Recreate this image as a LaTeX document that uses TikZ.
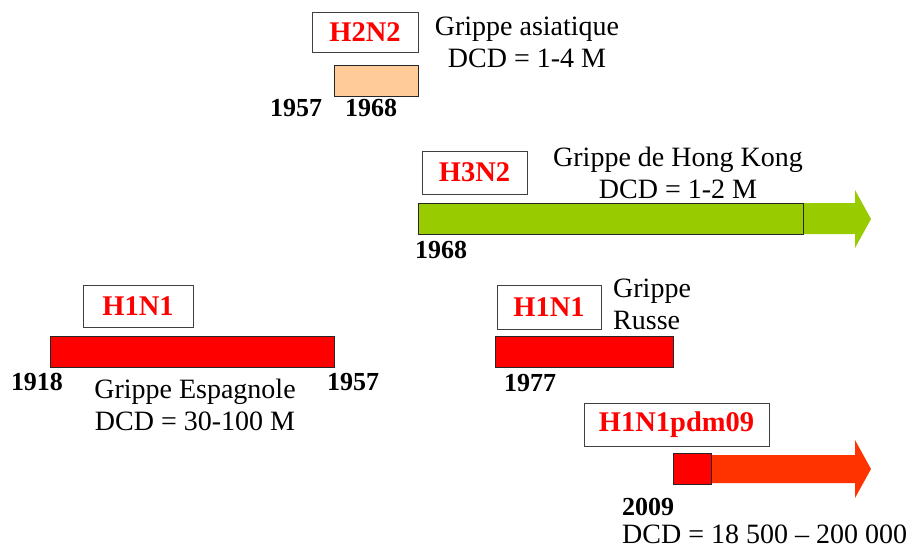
\documentclass[tikz,border=0pt]{standalone}
\usepackage{fontspec}
\setmainfont{Liberation Serif}
\definecolor{peach}{HTML}{FFCC99}
\definecolor{hkgreen}{HTML}{99CC00}
\definecolor{pdmorange}{HTML}{FF3300}
\begin{document}
\begin{tikzpicture}[x=1pt, y=-1pt,
    subtype/.style={draw=black!75, line width=0.9pt, fill=white, inner sep=0pt, text=red, font=\fontsize{28.5}{30}\selectfont\bfseries},
    bar/.style={draw=black!85, line width=1pt, inner sep=0pt, minimum height=31pt},
    year/.style={inner sep=0pt, font=\fontsize{26}{30}\selectfont\bfseries},
    note/.style={inner sep=0pt, align=center, font=\fontsize{28}{32}\selectfont}]
    \useasboundingbox (0,0) rectangle (922,550);

    % H2N2 - grippe asiatique
    \node[subtype, minimum width=106pt, minimum height=40pt] (h2n2) at (365,32) {H2N2};
    \node[note] (h2n2note) at (527,42) {Grippe asiatique\\DCD = 1-4 M};
    \node[bar, fill=peach, minimum width=84pt] (h2n2bar) at (376,80.5) {};
    \node[year] (y1957a) at (296,108) {1957};
    \node[year] (y1968a) at (371,108) {1968};

    % H3N2 - Hong Kong, arrow still running
    \node[subtype, minimum width=105pt, minimum height=43pt] (h3n2) at (474.5,172.5) {H3N2};
    \node[note] (h3n2note) at (678,173) {Grippe de Hong Kong\\DCD = 1-2 M};
    \fill[hkgreen] (790,203) -- (855,203) -- (855,190) -- (871,219) -- (855,248) -- (855,234) -- (790,234) -- cycle;
    \node[bar, fill=hkgreen, minimum width=385pt] (h3n2bar) at (611,218.5) {};
    \node[year] (y1968b) at (441,250) {1968};

    % H1N1 - grippe espagnole
    \node[subtype, minimum width=110pt, minimum height=42pt] (h1n1a) at (138,306) {H1N1};
    \node[bar, fill=red, minimum width=284pt] (h1n1abar) at (192,351.5) {};
    \node[year] (y1918) at (37,382) {1918};
    \node[year] (y1957b) at (353,382) {1957};
    \node[note] (h1n1anote) at (195,405) {Grippe Espagnole\\DCD = 30-100 M};

    % H1N1 - grippe russe
    \node[subtype, minimum width=104pt, minimum height=44pt] (h1n1b) at (549,307) {H1N1};
    \node[note, align=left, anchor=west] (h1n1bnote) at (613,304) {Grippe\\Russe};
    \node[bar, fill=red, minimum width=178pt] (h1n1bbar) at (584,351.5) {};
    \node[year] (y1977) at (530,383) {1977};

    % H1N1pdm09 - 2009
    \node[subtype, minimum width=185pt, minimum height=43pt] (pdm) at (676.5,424.5) {H1N1pdm09};
    \fill[pdmorange] (700,455) -- (855,455) -- (855,440) -- (871,469) -- (855,498) -- (855,483) -- (700,483) -- cycle;
    \node[bar, fill=red, minimum width=38pt] (pdmbar) at (692,468.5) {};
    \node[year] (y2009) at (648,507) {2009};
    \node[note, anchor=west] (pdmnote) at (622,534) {DCD = 18 500 -- 200 000};
\end{tikzpicture}
\end{document}
